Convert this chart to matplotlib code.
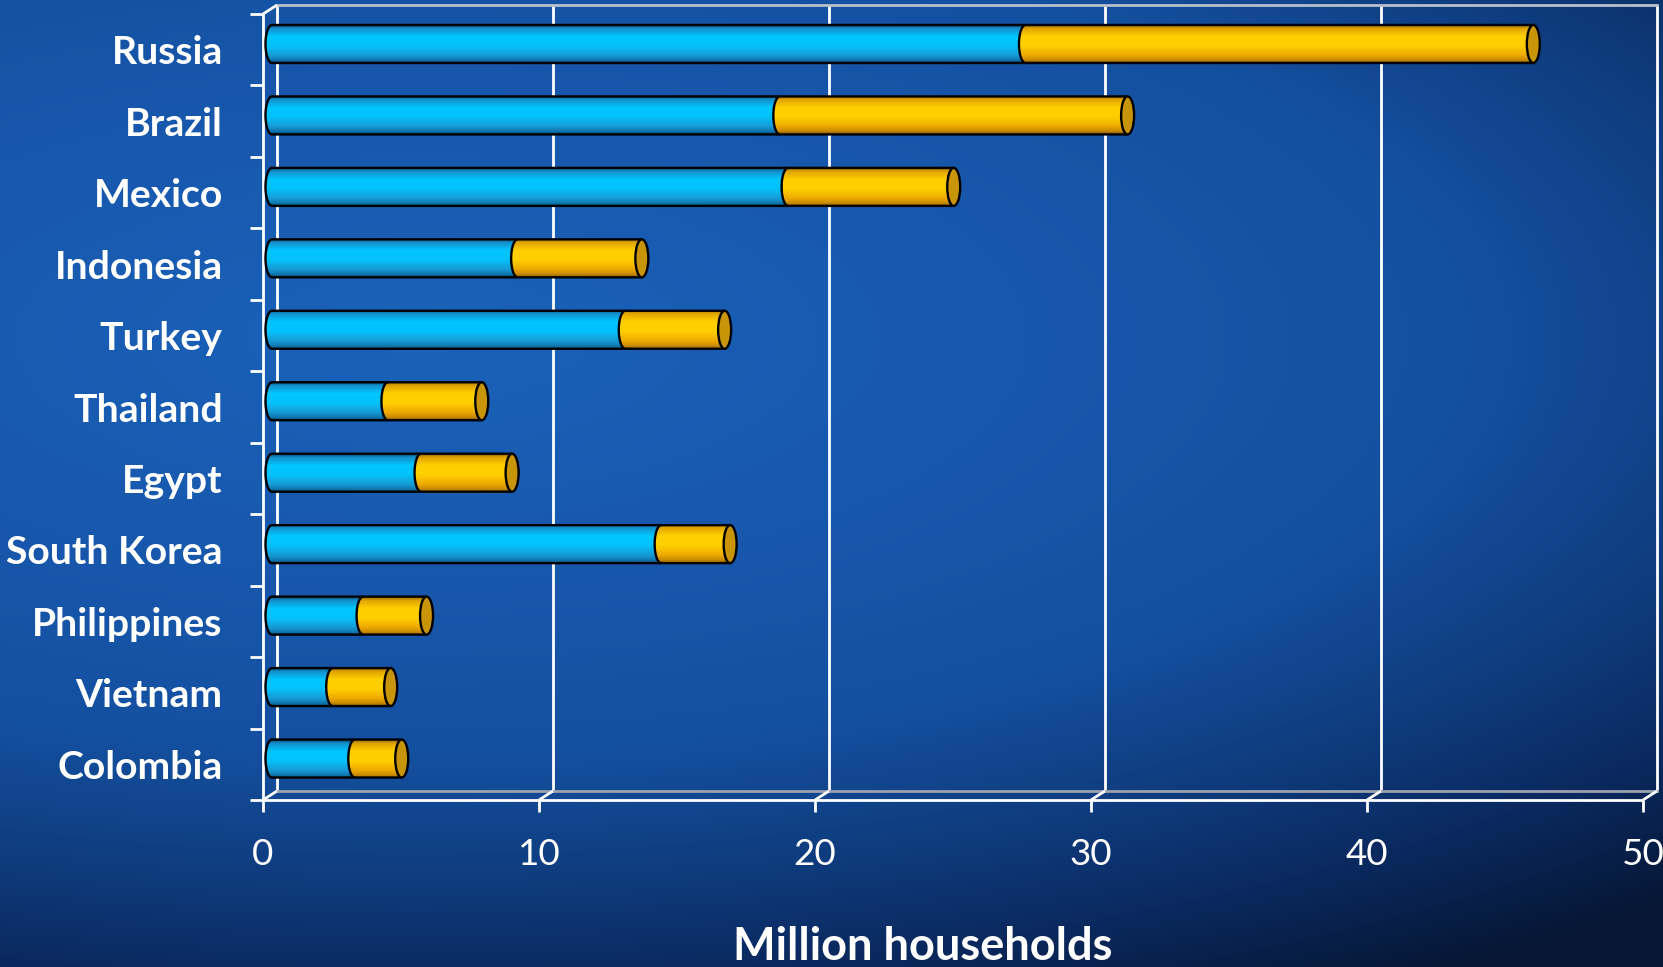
import numpy as np
import matplotlib
matplotlib.use('Agg')
import matplotlib.pyplot as plt
from matplotlib.colors import LinearSegmentedColormap
from matplotlib.patches import Ellipse, PathPatch
from matplotlib.path import Path

# data (million households)
countries = ['Russia', 'Brazil', 'Mexico', 'Indonesia', 'Turkey', 'Thailand',
             'Egypt', 'South Korea', 'Philippines', 'Vietnam', 'Colombia']
part_a = [27.3, 18.4, 18.7, 8.9, 12.8, 4.2, 5.4, 14.1, 3.3, 2.2, 3.0]
part_b = [18.4, 12.6, 6.0, 4.5, 3.6, 3.4, 3.3, 2.5, 2.3, 2.1, 1.7]
x_ticks = [0, 10, 20, 30, 40, 50]
x_label = 'Million households'

W, H = 1663, 967
fig = plt.figure(figsize=(W / 100, H / 100), dpi=100)

# background gradient
bg = fig.add_axes([0, 0, 1, 1])
bg.axis('off')
yy, xx = np.mgrid[0:1:300j, 0:1:500j]
dist = np.sqrt(((xx - 0.25) / 1.15) ** 2 + ((yy - 0.35) / 0.78) ** 2)
bg_cmap = LinearSegmentedColormap.from_list('bg', [
    (0.0, '#1a62ba'), (0.3, '#1858ad'), (0.55, '#1450a0'),
    (0.72, '#0f3c7e'), (0.85, '#0a2a60'), (1.0, '#061634')])
bg.imshow(dist, cmap=bg_cmap, vmin=0, vmax=1, extent=(0, 1, 0, 1),
          aspect='auto', interpolation='bicubic')
bg.set_xlim(0, 1)
bg.set_ylim(0, 1)

# plot area: front face of the 3d frame
ax = fig.add_axes([263 / W, (H - 800) / H, 1380 / W, 786 / H])
ax.patch.set_alpha(0)
for s in ax.spines.values():
    s.set_visible(False)

px_x = 50 / 1380.0
px_y = 11 / 786.0
DX, DY = 14 * px_x, 9 * px_y          # depth of the back wall
y_top, y_bot = -0.5, 10.5

frame_kw = dict(color='white', lw=2, solid_capstyle='butt', zorder=2, clip_on=False)
# back wall gridlines
for k in x_ticks:
    ax.plot([k + DX, k + DX], [y_bot - DY, y_top - DY], **frame_kw)
ax.plot([DX, 50 + DX], [y_top - DY, y_top - DY], color='#b8c0cc', lw=2, zorder=2, clip_on=False)
ax.plot([DX, 50 + DX], [y_bot - DY, y_bot - DY], color='#9aa2b0', lw=2, zorder=2, clip_on=False)
# front edges
ax.plot([0, 0], [y_bot, y_top], **frame_kw)
ax.plot([0, 50], [y_bot, y_bot], **frame_kw)
for k in x_ticks:
    ax.plot([k, k + DX], [y_bot, y_bot - DY], **frame_kw)
ax.plot([0, DX], [y_top, y_top - DY], **frame_kw)

# cylinder shading
blue_cmap = LinearSegmentedColormap.from_list('cyl_b', [
    (0.0, '#0a5080'), (0.08, '#1590cc'), (0.3, '#00c6ff'), (0.55, '#04c2fb'),
    (0.8, '#179bd6'), (0.93, '#0f78b0'), (1.0, '#0a4f7c')])
gold_cmap = LinearSegmentedColormap.from_list('cyl_g', [
    (0.0, '#9a6c00'), (0.08, '#e0a400'), (0.3, '#ffd000'), (0.55, '#ffcf00'),
    (0.8, '#eeaa00'), (0.93, '#c88a00'), (1.0, '#8c6000')])
shade = np.linspace(0, 1, 64).reshape(-1, 1)

hh = 19 * px_y        # half bar height
rx = 6.5 * px_x       # half width of the end ellipse
bar_dx = 9 * px_x
bar_dy = 5.75 * px_y


def draw_segment(start, end, yc, cmap):
    theta = np.linspace(np.pi / 2, 3 * np.pi / 2, 40)
    arc = np.column_stack([start + rx * np.cos(theta), yc - hh * np.sin(theta)])
    verts = np.vstack([arc, [[end, yc + hh], [end, yc - hh], [start, yc - hh]]])
    codes = [Path.MOVETO] + [Path.LINETO] * (len(verts) - 2) + [Path.CLOSEPOLY]
    clip = PathPatch(Path(verts, codes), facecolor='none', edgecolor='none',
                     transform=ax.transData, zorder=3)
    ax.add_patch(clip)
    im = ax.imshow(shade, cmap=cmap, vmin=0, vmax=1, origin='upper',
                   extent=(start - rx, end, yc + hh, yc - hh),
                   aspect='auto', interpolation='bicubic', zorder=3)
    im.set_clip_path(clip)
    outline = np.vstack([[[end, yc - hh]], arc, [[end, yc + hh]]])
    ax.add_patch(PathPatch(Path(outline), fill=False, edgecolor='black',
                           lw=1.7, zorder=4))


for i, (a, b) in enumerate(zip(part_a, part_b)):
    yc = i - bar_dy
    x0 = bar_dx
    draw_segment(x0, x0 + a, yc, blue_cmap)
    draw_segment(x0 + a, x0 + a + b, yc, gold_cmap)
    ax.add_patch(Ellipse((x0 + a + b, yc), 2 * rx, 2 * hh, facecolor='#c89408',
                         edgecolor='black', lw=1.7, zorder=5))

ax.set_xlim(0, 50)
ax.set_ylim(y_bot, y_top)

# ticks and labels
ax.set_xticks(x_ticks)
ax.set_xticklabels([str(t) for t in x_ticks], fontsize=26.5, color='white', family='Lato')
ax.tick_params(axis='x', length=8.6, width=2, color='white', pad=19)
ax.set_yticks(range(len(countries)))
ax.set_yticklabels(countries, fontsize=28.2, fontweight='bold', color='white', family='Lato')
ax.set_yticks(np.arange(-0.5, len(countries)), minor=True)
ax.tick_params(axis='y', which='major', length=0, pad=29)
ax.tick_params(axis='y', which='minor', length=9.4, width=2, color='white')
ax.tick_params(axis='x', which='minor', length=0)

ax.set_xlabel(x_label, fontsize=32.5, fontweight='bold', color='white', family='Lato')
ax.xaxis.set_label_coords(0.478, -0.16)

fig.savefig('out.png', dpi=100)
